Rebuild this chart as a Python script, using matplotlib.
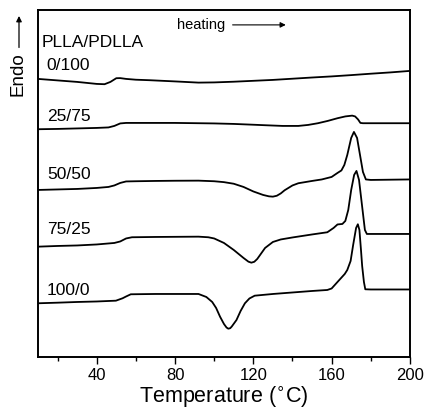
import matplotlib
matplotlib.use('Agg')
import matplotlib.pyplot as plt
import numpy as np

plt.rcParams['font.family'] = ['Liberation Sans', 'DejaVu Sans']

# DSC traces (heat flow in arbitrary units, downward = exo)
T_0_100 = [10, 20, 30, 40, 44, 47, 50, 52, 55, 60, 67, 80, 92, 100, 110, 120, 130, 140, 150, 160, 170, 180, 190, 200]
Q_0_100 = [79, 80.5, 82, 84, 84.3, 82, 78.3, 78.2, 79, 79.8, 80.3, 81.5, 82.7, 82.5, 81.8, 80.9, 80, 78.8, 77.6, 76.5, 75.2, 73.8, 72.5, 71]

T_25_75 = [10, 20, 30, 40, 46, 49, 52, 55, 60, 80, 92, 100, 110, 120, 126, 135, 143, 148, 153, 158, 163, 167, 170.5, 172, 173.5, 174.7, 176, 200]
Q_25_75 = [129.3, 129, 128.5, 128, 127.5, 126, 123.5, 123, 123, 123, 123.3, 123.5, 124, 124.8, 125.3, 126, 126, 125, 123.3, 121, 118.3, 116.5, 115.7, 116.5, 119.5, 123, 123.3, 123.3]

T_50_50 = [10, 20, 30, 40, 46, 49, 52, 55, 60, 70, 80, 92, 100, 105, 110, 115, 120, 125, 128, 130, 132, 134, 136, 140, 143, 150, 155, 160, 163, 165, 166.5, 168, 170, 171.4, 173, 174.5, 176, 177.5, 180, 200]
Q_50_50 = [190, 189.5, 189, 188, 187, 185.5, 183, 181.5, 181.3, 181, 180.8, 180.7, 181.3, 182.2, 183.8, 187, 191.5, 195, 196.4, 196.7, 195.8, 193.5, 190.3, 185.5, 183.3, 181, 179.5, 177, 173, 170.5, 165, 155, 138, 132, 138, 155, 172, 179.5, 180, 179.5]

T_75_25 = [10, 20, 30, 40, 49, 52, 55, 58, 70, 92, 97, 100, 105, 110, 115, 117.5, 119, 120.5, 122, 126, 130, 134, 140, 150, 157.8, 161, 163, 165.5, 167, 168.5, 170, 171.5, 172.7, 174, 175.5, 177, 178, 200]
Q_75_25 = [246.7, 246, 245.5, 244.5, 243, 241.5, 238.5, 237.3, 237, 236.7, 237.3, 238.5, 243, 250, 258, 261.7, 262.7, 261.8, 259, 248, 242, 239.5, 237.5, 234.5, 232.3, 228, 224.5, 224, 221, 210, 190, 175, 171, 180, 205, 230, 234, 234]

T_100_0 = [10, 20, 30, 40, 49.8, 53.2, 55, 57.4, 70, 92, 96, 99, 101, 103, 105, 106.3, 107.2, 108.2, 109, 111.4, 113.5, 115.7, 118, 120.7, 130, 140, 150, 157.8, 160, 163, 166.7, 168, 169.7, 171, 172.5, 173.4, 174.2, 175, 175.6, 176.5, 177.2, 180, 200]
Q_100_0 = [303.3, 302.7, 302, 301.5, 300.7, 298.3, 296.5, 294.3, 294, 294, 297, 302, 308, 316.7, 324, 327.5, 328.7, 328.2, 326.5, 320, 311, 303.3, 298.5, 295.7, 294, 292.5, 291, 290, 288.5, 282, 274, 270, 261, 245, 228, 224.3, 230, 250, 266, 282, 289.3, 289.5, 289.5]

curves = [(T_0_100, Q_0_100, '0/100', 66),
          (T_25_75, Q_25_75, '25/75', 117),
          (T_50_50, Q_50_50, '50/50', 175),
          (T_75_25, Q_75_25, '75/25', 230),
          (T_100_0, Q_100_0, '100/0', 290.5)]

fig = plt.figure(figsize=(4.27, 4.12), dpi=100)
ax = fig.add_axes([0.089, 0.1335, 0.871, 0.8425])

for T, Q, lab, ylab in curves:
    ax.plot(T, Q, color='k', lw=1.3, solid_joinstyle='round')
    ax.text(14.5, ylab, lab, fontsize=12.5, va='center', ha='left')

ax.text(12, 43, 'PLLA/PDLLA', fontsize=12.5, va='center', ha='left')
ax.text(81, 25, 'heating', fontsize=10.5, va='center', ha='left')
ax.annotate('', xy=(138, 25), xytext=(108, 25),
            arrowprops=dict(arrowstyle='-|>', color='k', lw=0.8, mutation_scale=8))

ax.set_xlim(10, 200)
ax.set_ylim(357, 10)
ax.set_xticks([40, 80, 120, 160, 200])
ax.set_xticks([20, 60, 100, 140, 180], minor=True)
ax.set_yticks([])
ax.tick_params(axis='x', direction='out', length=5, width=1, labelsize=12, pad=3)
ax.tick_params(axis='x', which='minor', direction='out', length=3, width=1)
for s in ax.spines.values():
    s.set_linewidth(1.4)
ax.set_xlabel('Temperature ($^{\\circ}$C)', fontsize=15.5, labelpad=1)

# Endo arrow on the left
fig.text(0.042, 0.82, 'Endo', rotation=90, fontsize=13.5, ha='center', va='center')
fig.add_artist(matplotlib.patches.FancyArrowPatch((0.0445, 0.878), (0.0445, 0.968),
               transform=fig.transFigure, arrowstyle='-|>', color='k', lw=0.9, mutation_scale=8))

fig.savefig('out.png', dpi=100)
